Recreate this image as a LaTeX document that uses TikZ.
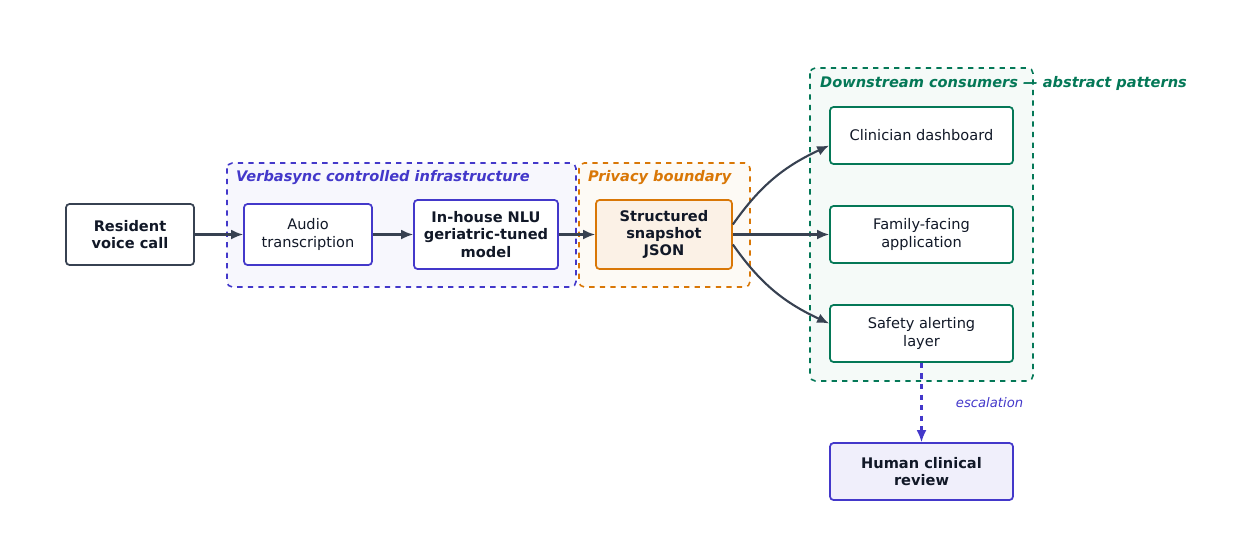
\documentclass[tikz,border=0pt]{standalone}
\usepackage{fontspec}
\setmainfont{DejaVu Sans}
\usetikzlibrary{positioning, arrows.meta, calc}
\definecolor{ink}{HTML}{111827}
\definecolor{slate}{HTML}{374151}
\definecolor{indigo}{HTML}{4338CA}
\definecolor{amber}{HTML}{D97706}
\definecolor{teal}{HTML}{047857}
\begin{document}
\begin{tikzpicture}[
            x=0.02cm, y=-0.02cm,
            font=\fontsize{8.3}{9.8}\selectfont, text=ink,
            box/.style={draw, rounded corners=2pt, line width=1pt, align=center, fill=white},
            group/.style={draw, dashed, rounded corners=3pt, line width=0.9pt},
            title/.style={font=\fontsize{8.3}{10}\selectfont\bfseries\itshape, anchor=west},
            flow/.style={-{Latex[length=2.4mm, width=2mm]}, draw=slate, line width=1.2pt}
            ]
        \useasboundingbox (0,0) rectangle (1252,556);

        % Gruppi
        \draw[group, draw=indigo, fill=indigo!4] (227,163) rectangle (576,287);
        \draw[group, draw=amber, fill=amber!4] (579,163) rectangle (750,287);
        \draw[group, draw=teal, fill=teal!4] (810,68) rectangle (1033,381);
        \node[title, text=indigo] at (230,178) {Verbasync controlled infrastructure};
        \node[title, text=amber] at (582,178) {Privacy boundary};
        \node[title, text=teal] at (814,83) {Downstream consumers — abstract patterns};

        % Nodi
        \node[box, draw=slate, minimum width=2.56cm, minimum height=1.22cm, font=\fontsize{8.3}{9.8}\selectfont\bfseries] (call) at (130,234.5) {Resident\\voice call};
        \node[box, draw=indigo, minimum width=2.56cm, minimum height=1.22cm] (asr) at (308,234.5) {Audio\\transcription};
        \node[box, draw=indigo, minimum width=2.88cm, minimum height=1.38cm, font=\fontsize{8.3}{9.8}\selectfont\bfseries] (nlu) at (486,234.5) {In-house NLU\\geriatric-tuned\\model};
        \node[box, draw=amber, fill=amber!10, minimum width=2.72cm, minimum height=1.38cm, font=\fontsize{8.3}{9.8}\selectfont\bfseries] (json) at (664,234.5) {Structured\\snapshot\\JSON};
        \node[box, draw=teal, minimum width=3.66cm, minimum height=1.14cm] (dash) at (921.5,135.5) {Clinician dashboard};
        \node[box, draw=teal, minimum width=3.66cm, minimum height=1.14cm] (family) at (921.5,234.5) {Family-facing\\application};
        \node[box, draw=teal, minimum width=3.66cm, minimum height=1.14cm] (alert) at (921.5,333.5) {Safety alerting\\layer};
        \node[box, draw=indigo, fill=indigo!8, minimum width=3.66cm, minimum height=1.14cm, font=\fontsize{8.3}{9.8}\selectfont\bfseries] (human) at (921.5,471.5) {Human clinical\\review};

        % Archi
        \draw[flow] (call) -- (asr);
        \draw[flow] (asr) -- (nlu);
        \draw[flow] (nlu) -- (json);
        \draw[flow] (json) -- (family);
        \draw[flow] (json.east) ++(0,-10) to[out=55, in=205] ([yshift=-0.2cm]dash.west);
        \draw[flow] (json.east) ++(0,10) to[out=-55, in=155] ([yshift=0.2cm]alert.west);
        \draw[-{Latex[length=2.4mm, width=2mm]}, dashed, draw=indigo, line width=1.2pt] (alert) -- (human)
            node[pos=0.5, right=0.55cm, font=\fontsize{7.5}{9}\selectfont\itshape, text=indigo] {escalation};
        \end{tikzpicture}
\end{document}
